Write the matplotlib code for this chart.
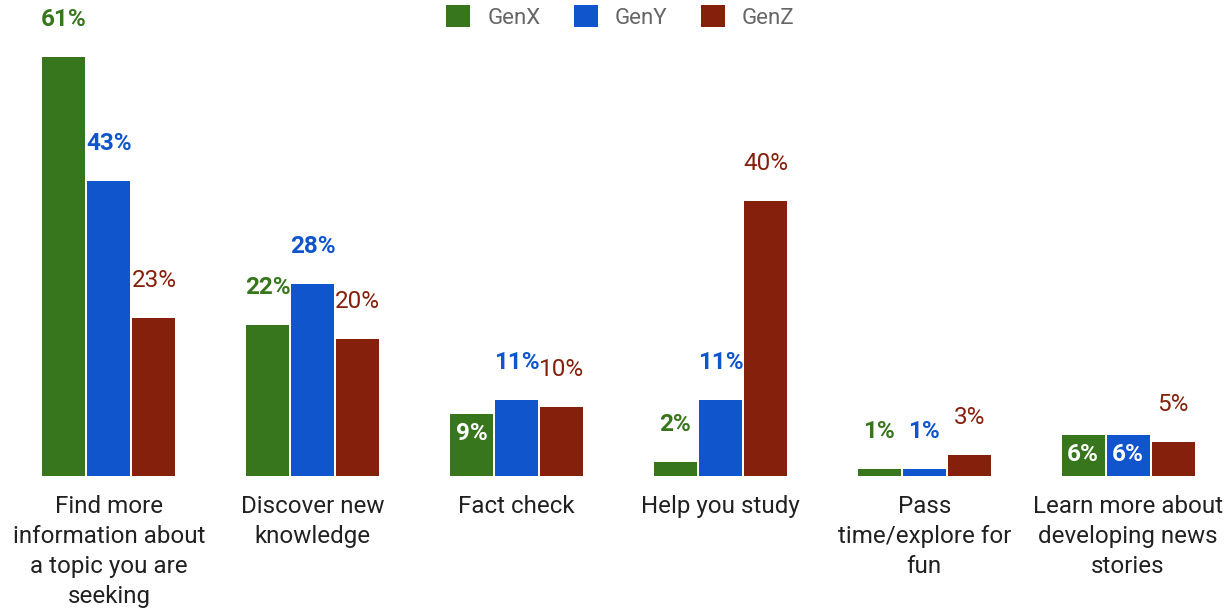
import numpy as np
import matplotlib
matplotlib.use('Agg')
import matplotlib.pyplot as plt

plt.rcParams['font.family'] = ['Roboto', 'DejaVu Sans']

categories = ['Find more\ninformation about\na topic you are\nseeking',
              'Discover new\nknowledge',
              'Fact check',
              'Help you study',
              'Pass\ntime/explore for\nfun',
              'Learn more about\ndeveloping news\nstories']
series = ['GenX', 'GenY', 'GenZ']
genx = [61, 22, 9, 2, 1, 6]
geny = [43, 28, 11, 11, 1, 6]
genz = [23, 20, 10, 40, 3, 5]
# labels drawn inside the bar (category index, series index)
inside = [(2, 0), (5, 0), (5, 1)]

colors = ['#38761d', '#1155cc', '#85200c']
weights = ['bold', 'bold', 'normal']

fig = plt.figure(figsize=(12.31, 6.10), dpi=100)
ax = fig.add_axes([7 / 1231, 134 / 610, 1223 / 1231, 476 / 610])

x = np.arange(len(categories))
width = 0.211
step = 0.221

for j, vals in enumerate([genx, geny, genz]):
    pos = x + (j - 1) * step
    ax.bar(pos, vals, width, color=colors[j], label=series[j])
    for i, v in enumerate(vals):
        if (i, j) in inside:
            ax.annotate(f'{v}%', (pos[i], v), xytext=(0, -14), textcoords='offset points',
                        ha='center', va='center', color='white', fontsize=17.5,
                        fontweight='bold')
        else:
            ax.annotate(f'{v}%', (pos[i], v), xytext=(0, 27), textcoords='offset points',
                        ha='center', va='center', color=colors[j], fontsize=17.5,
                        fontweight=weights[j])

ax.set_xlim(-0.5, len(categories) - 0.5)
ax.set_ylim(0, 69.3)
ax.set_xticks(x)
ax.set_xticklabels(categories, fontsize=17.4, color='#212121', linespacing=1.38)
ax.tick_params(axis='x', length=0, pad=14)
ax.set_yticks([])
for s in ax.spines.values():
    s.set_visible(False)

fig.legend(loc='center', bbox_to_anchor=(0.504, 1 - 17 / 610), ncol=3, frameon=False,
           fontsize=16, labelcolor='#666666', handlelength=1.08, handleheight=1.08,
           handletextpad=0.77, columnspacing=1.5, borderpad=0.0)

fig.savefig('out.png', dpi=100)
